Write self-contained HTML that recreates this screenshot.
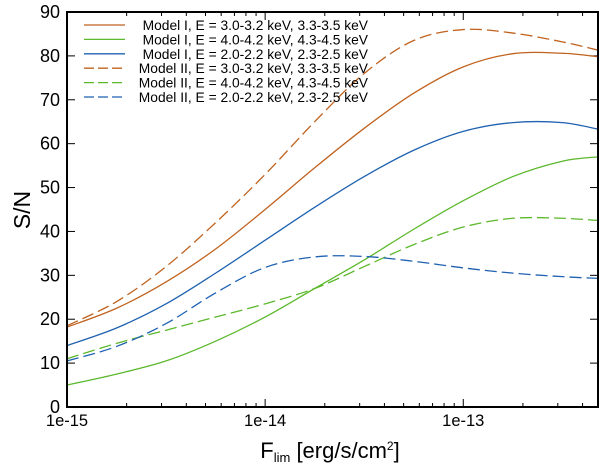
<!DOCTYPE html>
<html><head><meta charset="utf-8"><style>
body{margin:0;background:#fff}
svg{display:block;font-family:"Liberation Sans",sans-serif}
</style></head><body>
<svg id="chart" width="600" height="466"></svg>
<script>
const decades = [0, 0.25, 0.5, 0.75, 1.0, 1.25, 1.5, 1.75, 2.0, 2.25, 2.5, 2.68];
const m1E3 = [18.2, 22.5, 28.5, 36, 45, 54.5, 63.5, 71.5, 77.5, 80.5, 80.6, 79.8];
const m1E4 = [5, 7.5, 10.5, 15, 20.5, 27, 33.5, 40.5, 47, 52.5, 56, 57];
const m1E2 = [14, 18, 23.5, 30.5, 38, 45.5, 52.5, 58.5, 62.8, 64.8, 64.8, 63.3];
const m2E3 = [18.5, 24, 32, 42, 53, 65, 76, 83.5, 86, 85.2, 83.2, 81.3];
const m2E4 = [11, 14.5, 17.5, 20.5, 23.5, 27, 32, 37, 41, 43, 43, 42.5];
const m2E2 = [10.5, 13.8, 19, 26, 31.8, 34.2, 34.3, 33.2, 31.7, 30.5, 29.7, 29.3];
const yTicks = [0, 10, 20, 30, 40, 50, 60, 70, 80, 90];
const xTickLabels = ["1e-15", "1e-14", "1e-13"];
const seriesNames = ["Model I, E = 3.0-3.2 keV, 3.3-3.5 keV","Model I, E = 4.0-4.2 keV, 4.3-4.5 keV","Model I, E = 2.0-2.2 keV, 2.3-2.5 keV","Model II, E = 3.0-3.2 keV, 3.3-3.5 keV","Model II, E = 4.0-4.2 keV, 4.3-4.5 keV","Model II, E = 2.0-2.2 keV, 2.3-2.5 keV"];

const L=67,R=598,T=12,B=407,dMax=2.68;
const xs=d=>L+(d/dMax)*(R-L);
const ys=v=>B-(v/90)*(B-T);
const NS="http://www.w3.org/2000/svg";
const svg=document.getElementById('chart');
function mk(tag,attrs,parent){const e=document.createElementNS(NS,tag);for(const k in attrs)e.setAttribute(k,attrs[k]);(parent||svg).appendChild(e);return e;}

for(let dec=0;dec<3;dec++){
  for(let m=1;m<10;m++){
    const d=dec+Math.log10(m); if(d>dMax) break;
    const x=xs(d), len=m===1?8:4;
    const t1=mk('line',{x1:x,x2:x,y1:B,y2:B-len,stroke:'#000','stroke-width':1});
    
    
    const t2=mk('line',{x1:x,x2:x,y1:T,y2:T+len,stroke:'#000','stroke-width':1});
    
    
  }
  const tl=mk('text',{x:xs(dec),y:B+19,'font-size':16.5,'text-anchor':'middle'});
  tl.textContent=xTickLabels[dec];
  
  
}
yTicks.forEach(v=>{
  const y=ys(v);
  const a=mk('line',{x1:L,x2:L+8,y1:y,y2:y,stroke:'#000'});
  
  
  const b=mk('line',{x1:R,x2:R-8,y1:y,y2:y,stroke:'#000'});
  
  
  const t=mk('text',{x:L-7,y:y+6,'font-size':18,'text-anchor':'end'});
  t.textContent=v;
  
  
});

function path(vals){
  const p=decades.map((d,i)=>[xs(d),ys(vals[i])]);
  let s=`M${p[0][0]},${p[0][1]}`;
  for(let i=0;i<p.length-1;i++){
    const p0=p[Math.max(0,i-1)],p1=p[i],p2=p[i+1],p3=p[Math.min(p.length-1,i+2)];
    const c1=[p1[0]+(p2[0]-p0[0])/6,p1[1]+(p2[1]-p0[1])/6];
    const c2=[p2[0]-(p3[0]-p1[0])/6,p2[1]-(p3[1]-p1[1])/6];
    s+=`C${c1[0]},${c1[1]} ${c2[0]},${c2[1]} ${p2[0]},${p2[1]}`;
  }
  return s;
}
const orange='#c0621e',green='#5cb82c',blue='#1f62b0';
const series=[[m1E3,orange,'','series-model1-e3'],[m1E4,green,'','series-model1-e4'],[m1E2,blue,'','series-model1-e2'],[m2E3,orange,'12,5','series-model2-e3'],[m2E4,green,'12,5','series-model2-e4'],[m2E2,blue,'12,5','series-model2-e2']];
series.forEach((s,i)=>{
  const p=mk('path',{d:path(s[0]),fill:'none',stroke:s[1],'stroke-width':1.3,'stroke-dasharray':s[2]||'none'});
  
  
  const ly=25+i*14.4;
  const ll=mk('line',{x1:84,x2:125,y1:ly,y2:ly,stroke:s[1],'stroke-width':1.3,'stroke-dasharray':s[2]?'10,4':'none'});
  
  
  const lt=mk('text',{x:368,y:ly+5,'font-size':13.8,'text-anchor':'end'});
  lt.textContent=seriesNames[i];
  
  
});
const frame=mk('rect',{x:L,y:T,width:R-L,height:B-T,fill:'none',stroke:'#000','stroke-width':2});


const yl=mk('text',{x:0,y:0,'font-size':23,'text-anchor':'middle',transform:'translate(30,210) rotate(-90)'});
yl.textContent='S/N';


const xl=mk('text',{x:330,y:458,'font-size':22,'text-anchor':'middle'});
xl.innerHTML='F<tspan font-size="13" dy="4">lim</tspan><tspan dy="-4"> [erg/s/cm</tspan><tspan font-size="12" dy="-8">2</tspan><tspan dy="8">]</tspan>';


</script>
</body></html>
